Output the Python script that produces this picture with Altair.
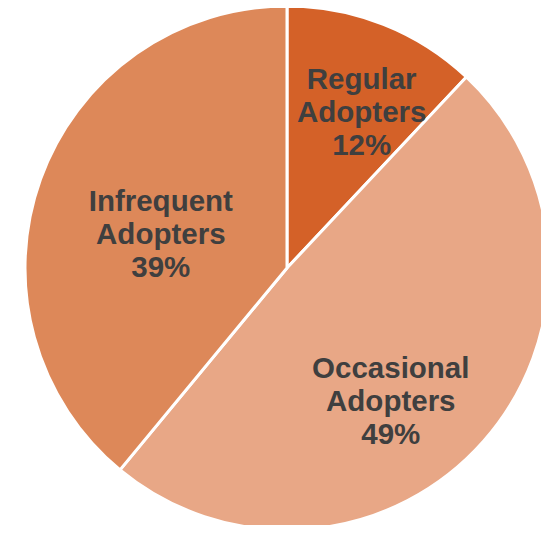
import altair as alt
import pandas as pd

categories = ["Regular Adopters", "Occasional Adopters", "Infrequent Adopters"]
shares = [12, 49, 39]
colors = ["#D46128", "#E8A786", "#DD8859"]

df = pd.DataFrame({
    "category": categories,
    "share": shares,
    "order": list(range(len(categories))),
})
df["label"] = df["category"].str.replace(" ", "\n") + "\n" + df["share"].astype(str) + "%"

CX, CY, R = 279, 260, 262

# label placement tweaks (radius, dx, dy) per category
label_radius = {"Regular Adopters": 173, "Occasional Adopters": 169, "Infrequent Adopters": 132}
label_dx = {"Regular Adopters": 11, "Occasional Adopters": -23, "Infrequent Adopters": -2}
label_dy = {"Regular Adopters": -27, "Occasional Adopters": -11, "Infrequent Adopters": -21}


def lookup_expr(d):
    return " : ".join([f"datum.category == '{k}' ? {v}" for k, v in d.items()] + ["0"])


base = alt.Chart(df)

pie = base.mark_arc(outerRadius=R, stroke="white", strokeWidth=3).encode(
    theta=alt.Theta("share:Q", stack=True),
    order=alt.Order("order:Q"),
    color=alt.Color("category:N", scale=alt.Scale(domain=categories, range=colors), legend=None),
    x=alt.value(CX),
    y=alt.value(CY),
)

text = base.mark_text(
    radius=alt.expr(lookup_expr(label_radius)),
    dx=alt.expr(lookup_expr(label_dx)),
    dy=alt.expr(lookup_expr(label_dy)),
    font="Liberation Sans", fontSize=29.5, fontWeight="bold",
    color="#3F3F3F", lineBreak="\n", lineHeight=33,
    align="center", baseline="middle",
).encode(
    theta=alt.Theta("share:Q", stack=True),
    order=alt.Order("order:Q"),
    text="label:N",
    x=alt.value(CX),
    y=alt.value(CY),
)

chart = alt.layer(pie, text).properties(
    width=533, height=517, padding=0, autosize="none"
).configure_view(stroke=None)

chart.save("out.html", embed_options={"renderer": "svg", "actions": False})
